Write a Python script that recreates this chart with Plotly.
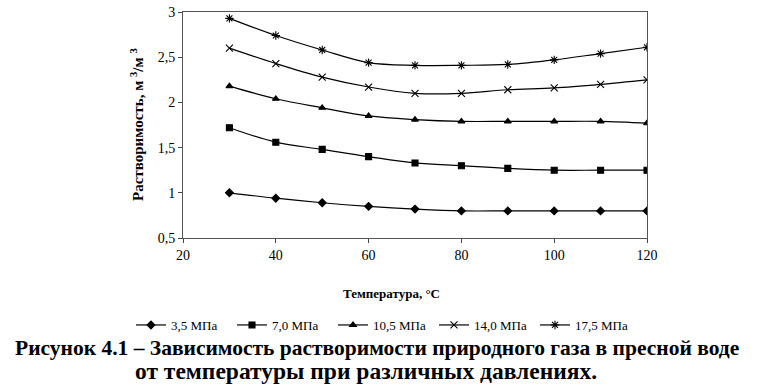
import plotly.graph_objects as go

temps = [30, 40, 50, 60, 70, 80, 90, 100, 110, 120]
s_35 = [1.00, 0.94, 0.89, 0.85, 0.82, 0.80, 0.80, 0.80, 0.80, 0.80]
s_70 = [1.72, 1.56, 1.48, 1.40, 1.33, 1.30, 1.27, 1.25, 1.25, 1.25]
s_105 = [2.18, 2.04, 1.94, 1.85, 1.81, 1.79, 1.79, 1.79, 1.79, 1.77]
s_140 = [2.60, 2.43, 2.28, 2.17, 2.10, 2.10, 2.14, 2.16, 2.20, 2.25]
s_175 = [2.93, 2.74, 2.58, 2.44, 2.41, 2.41, 2.42, 2.47, 2.54, 2.61]
names = ["3,5 МПа", "7,0 МПа", "10,5 МПа", "14,0 МПа", "17,5 МПа"]
symbols = ["diamond", "square", "triangle-up", "x-thin-open", "asterisk-open"]
y_ticks = [0.5, 1, 1.5, 2, 2.5, 3]
y_tick_text = ["0,5", "1", "1,5", "2", "2,5", "3"]
x_ticks = [20, 40, 60, 80, 100, 120]

FONT = "Liberation Serif"
fig = go.Figure()
for name, vals, sym in zip(names, [s_35, s_70, s_105, s_140, s_175], symbols):
    fig.add_trace(go.Scatter(
        x=temps, y=vals, name=name, mode="lines+markers",
        line=dict(color="black", width=1.2, shape="spline"),
        marker=dict(symbol=sym, size=6 if sym in ("diamond", "square", "triangle-up") else 7,
                    color="black", line=dict(color="black", width=1.1)),
    ))

W, H = 764, 390
# plot area in page pixels: left 183, right 647, top 12, bottom 238
L, T = 183, 12
R, B = W - 647, H - 238
pw, ph = W - L - R, H - T - B

def px(xp):
    return (xp - L) / pw

def py(yp):
    return (H - B - yp) / ph

def note(text, xp, yp, size, angle=0):
    return dict(text=text, x=px(xp), y=py(yp), xref="paper", yref="paper",
                xanchor="center", yanchor="middle", showarrow=False, textangle=angle,
                font=dict(family=FONT, size=size))

fig.update_layout(
    width=W, height=H,
    margin=dict(l=L, r=R, t=T, b=B, autoexpand=False),
    paper_bgcolor="white", plot_bgcolor="white",
    font=dict(family=FONT, color="black", size=13),
    showlegend=True,
    legend=dict(orientation="h", x=px(131), y=py(325), xanchor="left", yanchor="middle",
                font=dict(family=FONT, size=13), itemwidth=30, tracegroupgap=0,
                entrywidth=56, entrywidthmode="pixels",
                bgcolor="rgba(0,0,0,0)"),
    xaxis=dict(range=[20, 120], tickvals=x_ticks, ticks="outside", ticklen=4,
               showgrid=False, zeroline=False, showline=True, linecolor="#555",
               linewidth=1, mirror=True, tickfont=dict(family=FONT, size=14),
               ticklabeloverflow="allow"),
    yaxis=dict(range=[0.5, 3], tickvals=y_ticks, ticktext=y_tick_text, ticks="outside",
               ticklen=4, showgrid=False, zeroline=False, showline=True, linecolor="#555",
               linewidth=1, mirror=True, tickfont=dict(family=FONT, size=14),
               ticklabeloverflow="allow"),
    annotations=[
        note("<b>Растворимость, м <sup>3</sup>/м <sup>3</sup></b>", 137, 125, 15, -90),
        note("<b>Температура, °C</b>", 391, 293, 13),
        note("<b>Рисунок 4.1 – Зависимость растворимости природного газа в пресной воде</b>",
             377, 348, 21.5),
        note("<b>от температуры при различных давлениях.</b>", 366, 371, 23.5),
    ],
)
fig.write_html("out.html", config={"displayModeBar": False},
               post_script="document.body.style.margin='0';")
